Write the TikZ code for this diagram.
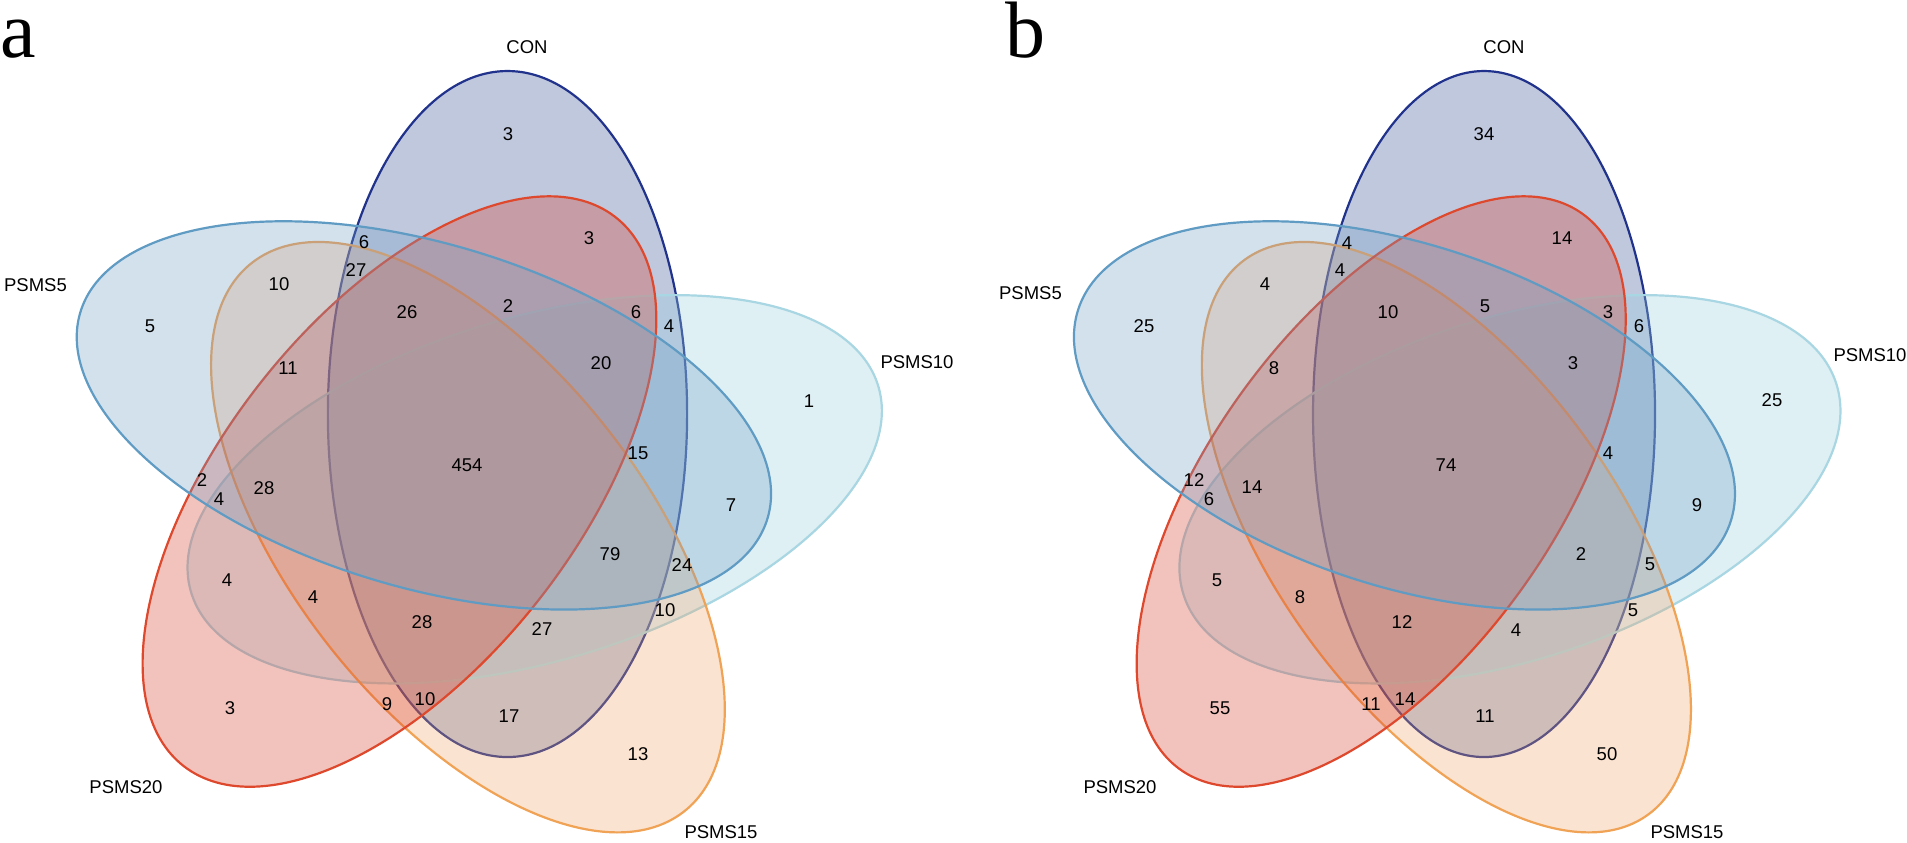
\documentclass[tikz,border=0pt]{standalone}
\usepackage{fontspec}
\setmainfont{Liberation Sans}
\newfontfamily\panelfont{Liberation Serif}
\begin{document}
\begin{tikzpicture}[x=1pt,y=1pt,
  num/.style={inner sep=0pt, font=\fontsize{18.5}{21}\selectfont},
  setlabel/.style={inner sep=0pt, font=\fontsize{18.5}{21}\selectfont},
  panel/.style={inner sep=0pt, anchor=base west, font=\panelfont\fontsize{80}{82}\selectfont},
  vset/.style={line width=2.2pt, fill opacity=0.3},
  sCON/.style={vset, draw=conD, fill=conF},
  sP5/.style={vset, draw=p5D, fill=p5F},
  sP10/.style={vset, draw=p10D, fill=p10F},
  sP15/.style={vset, draw=p15D, fill=p15F},
  sP20/.style={vset, draw=p20D, fill=p20F}]
\definecolor{conD}{RGB}{32,50,140}
\definecolor{conF}{RGB}{48,75,148}
\definecolor{p5D}{RGB}{95,155,195}
\definecolor{p5F}{RGB}{112,158,198}
\definecolor{p10D}{RGB}{168,214,226}
\definecolor{p10F}{RGB}{152,208,222}
\definecolor{p15D}{RGB}{240,162,85}
\definecolor{p15F}{RGB}{242,165,105}
\definecolor{p20D}{RGB}{222,72,45}
\definecolor{p20F}{RGB}{215,58,38}
\useasboundingbox[fill=white] (0,0) rectangle (1907,843);

% ---------- panel a ----------
\begin{scope}[shift={(466.7,373.5)}, xscale=1.0504]
  \begin{scope}[shift={(55:67.7)}, rotate=0]
    \path[sCON] (0,0) ellipse [x radius=171, y radius=343];
  \end{scope}
  \begin{scope}[shift={(-17:67.7)}, rotate=-72]
    \path[sP10] (0,0) ellipse [x radius=171, y radius=343];
  \end{scope}
  \begin{scope}[shift={(-89:67.7)}, rotate=-144]
    \path[sP15] (0,0) ellipse [x radius=171, y radius=343];
  \end{scope}
  \begin{scope}[shift={(-161:67.7)}, rotate=-216]
    \path[sP20] (0,0) ellipse [x radius=171, y radius=343];
  \end{scope}
  \begin{scope}[shift={(127:67.7)}, rotate=-288]
    \path[sP5] (0,0) ellipse [x radius=171, y radius=343];
  \end{scope}
\end{scope}

% ---------- panel b ----------
\begin{scope}[shift={(1445.2,373.5)}]
  \begin{scope}[shift={(55:67.7)}, rotate=0]
    \path[sCON] (0,0) ellipse [x radius=171, y radius=343];
  \end{scope}
  \begin{scope}[shift={(-17:67.7)}, rotate=-72]
    \path[sP10] (0,0) ellipse [x radius=171, y radius=343];
  \end{scope}
  \begin{scope}[shift={(-89:67.7)}, rotate=-144]
    \path[sP15] (0,0) ellipse [x radius=171, y radius=343];
  \end{scope}
  \begin{scope}[shift={(-161:67.7)}, rotate=-216]
    \path[sP20] (0,0) ellipse [x radius=171, y radius=343];
  \end{scope}
  \begin{scope}[shift={(127:67.7)}, rotate=-288]
    \path[sP5] (0,0) ellipse [x radius=171, y radius=343];
  \end{scope}
\end{scope}

% panel letters
\node[panel] (pa) at (0,785) {a};
\node[panel] (pb) at (1005,785) {b};

% labels a
\node[setlabel] (laCON) at (527,796) {CON};
\node[setlabel] (laP5) at (35.5,558) {PSMS5};
\node[setlabel] (laP10) at (917,481) {PSMS10};
\node[setlabel] (laP20) at (126,56) {PSMS20};
\node[setlabel] (laP15) at (721,11) {PSMS15};
% labels b
\node[setlabel] (lbCON) at (1504,796) {CON};
\node[setlabel] (lbP5) at (1030.5,550) {PSMS5};
\node[setlabel] (lbP10) at (1870,488) {PSMS10};
\node[setlabel] (lbP20) at (1120,56) {PSMS20};
\node[setlabel] (lbP15) at (1687,11) {PSMS15};

% numbers a
\node[num] (a1) at (508,709) {3};
\node[num] (a2) at (589,605) {3};
\node[num] (a3) at (364,601) {6};
\node[num] (a4) at (356,573) {27};
\node[num] (a5) at (279,559) {10};
\node[num] (a6) at (150,517) {5};
\node[num] (a7) at (407,531) {26};
\node[num] (a8) at (508,537) {2};
\node[num] (a9) at (636,531) {6};
\node[num] (a10) at (669,517) {4};
\node[num] (a11) at (601,480) {20};
\node[num] (a12) at (288,475) {11};
\node[num] (a13) at (809,442) {1};
\node[num] (a14) at (638,390) {15};
\node[num] (a15) at (467,378) {454};
\node[num] (a16) at (202,363) {2};
\node[num] (a17) at (264,355) {28};
\node[num] (a18) at (219,344) {4};
\node[num] (a19) at (731,338) {7};
\node[num] (a20) at (610,289) {79};
\node[num] (a21) at (682,278) {24};
\node[num] (a22) at (227,263) {4};
\node[num] (a23) at (313,246) {4};
\node[num] (a24) at (665,233) {10};
\node[num] (a25) at (422,221) {28};
\node[num] (a26) at (542,214) {27};
\node[num] (a27) at (230,135) {3};
\node[num] (a28) at (387,139) {9};
\node[num] (a29) at (425,144) {10};
\node[num] (a30) at (509,127) {17};
\node[num] (a31) at (638,89) {13};

% numbers b
\node[num] (b1) at (1484,709) {34};
\node[num] (b2) at (1562,605) {14};
\node[num] (b3) at (1347,600) {4};
\node[num] (b4) at (1340,573) {4};
\node[num] (b5) at (1265,559) {4};
\node[num] (b6) at (1144,517) {25};
\node[num] (b7) at (1388,531) {10};
\node[num] (b8) at (1485,537) {5};
\node[num] (b9) at (1608,531) {3};
\node[num] (b10) at (1639,517) {6};
\node[num] (b11) at (1573,480) {3};
\node[num] (b12) at (1274,475) {8};
\node[num] (b13) at (1772,443) {25};
\node[num] (b14) at (1608,390) {4};
\node[num] (b15) at (1446,378) {74};
\node[num] (b16) at (1194,363) {12};
\node[num] (b17) at (1252,356) {14};
\node[num] (b18) at (1209,344) {6};
\node[num] (b19) at (1697,338) {9};
\node[num] (b20) at (1581,289) {2};
\node[num] (b21) at (1650,279) {5};
\node[num] (b22) at (1217,263) {5};
\node[num] (b23) at (1300,246) {8};
\node[num] (b24) at (1633,233) {5};
\node[num] (b25) at (1402,221) {12};
\node[num] (b26) at (1516,213) {4};
\node[num] (b27) at (1220,135) {55};
\node[num] (b28) at (1371,139) {11};
\node[num] (b29) at (1405,144) {14};
\node[num] (b30) at (1485,127) {11};
\node[num] (b31) at (1607,89) {50};
\end{tikzpicture}
\end{document}
